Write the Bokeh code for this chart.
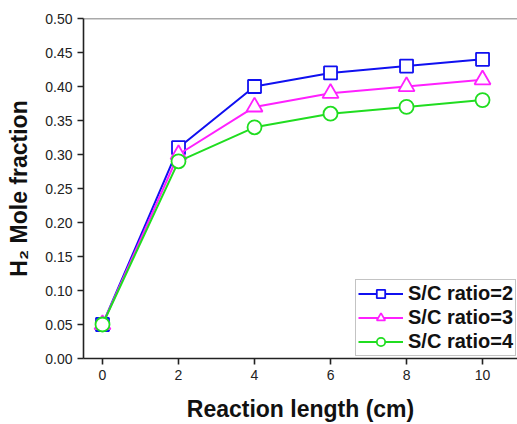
from bokeh.plotting import figure
from bokeh.models import Range1d, Span, Legend, LegendItem, FixedTicker, NumeralTickFormatter
from bokeh.embed import file_html
from bokeh.resources import INLINE

# Reaction length (cm) and H2 mole fraction for each steam-to-carbon ratio
length_cm = [0, 2, 4, 6, 8, 10]
sc2 = [0.05, 0.31, 0.40, 0.42, 0.43, 0.44]
sc3 = [0.05, 0.30, 0.37, 0.39, 0.40, 0.41]
sc4 = [0.05, 0.29, 0.34, 0.36, 0.37, 0.38]
series_names = ["S/C ratio=2", "S/C ratio=3", "S/C ratio=4"]
x_ticks = [0, 2, 4, 6, 8, 10]
y_ticks = [0.00, 0.05, 0.10, 0.15, 0.20, 0.25, 0.30, 0.35, 0.40, 0.45, 0.50]

FONT = "Liberation Sans"

p = figure(width=517, height=424, output_backend="svg", toolbar_location=None,
           x_range=Range1d(-0.5, 10.92), y_range=Range1d(0, 0.5),
           min_border_left=83, min_border_right=0, min_border_top=18,
           min_border_bottom=61)
p.outline_line_color = None
p.grid.grid_line_color = None
p.background_fill_color = "white"
p.border_fill_color = "white"

# frame top edge
p.add_layout(Span(location=0.5, dimension="width", line_color="#555555", line_width=1.6))

for ax in (p.xaxis[0], p.yaxis[0]):
    ax.axis_line_color = "#222222"
    ax.axis_line_width = 1.6
    ax.major_tick_line_color = "#222222"
    ax.major_tick_line_width = 1.6
    ax.major_tick_out = 6
    ax.major_tick_in = 0
    ax.minor_tick_line_color = None
    ax.major_label_text_font = FONT
    ax.major_label_text_font_size = "14px"
    ax.major_label_text_color = "#222222"
    ax.major_label_standoff = 5
    ax.axis_label_text_font = FONT
    ax.axis_label_text_font_style = "bold"
    ax.axis_label_text_color = "#111111"

p.xaxis.ticker = FixedTicker(ticks=x_ticks)
p.yaxis.ticker = FixedTicker(ticks=y_ticks)
p.yaxis.formatter = NumeralTickFormatter(format="0.00")
p.xaxis.axis_label = "Reaction length (cm)"
p.xaxis.axis_label_text_font_size = "23px"
p.xaxis.axis_label_standoff = 13
p.yaxis.axis_label = "H\u2082 Mole fraction"
p.yaxis.axis_label_text_font_size = "23px"
p.yaxis.axis_label_standoff = 10

colors = ["#1010f0", "#ff20ff", "#20dd20"]
items = []

l2 = p.line(length_cm, sc2, line_color=colors[0], line_width=2)
m2 = p.scatter(length_cm, sc2, marker="square", size=13, line_color=colors[0],
               line_width=1.8, fill_color="white")
items.append(LegendItem(label=series_names[0], renderers=[l2, m2]))

l3 = p.line(length_cm, sc3, line_color=colors[1], line_width=2)
m3 = p.scatter(length_cm, sc3, marker="triangle", size=16, line_color=colors[1],
               line_width=1.8, fill_color="white")
items.append(LegendItem(label=series_names[1], renderers=[l3, m3]))

l4 = p.line(length_cm, sc4, line_color=colors[2], line_width=2)
m4 = p.scatter(length_cm, sc4, marker="circle", size=14, line_color=colors[2],
               line_width=1.8, fill_color="white")
items.append(LegendItem(label=series_names[2], renderers=[l4, m4]))

legend = Legend(items=items, location=(272, 2), orientation="vertical",
                label_text_font=FONT, label_text_font_style="bold",
                label_text_font_size="20px", label_text_color="#111111",
                glyph_width=45, glyph_height=21, label_height=21,
                label_standoff=5, spacing=1, padding=2, margin=0,
                border_line_color="#888888", border_line_width=1.5,
                background_fill_color="white", background_fill_alpha=1.0)
p.add_layout(legend, "center")

open("out.html", "w").write(file_html(p, INLINE))
